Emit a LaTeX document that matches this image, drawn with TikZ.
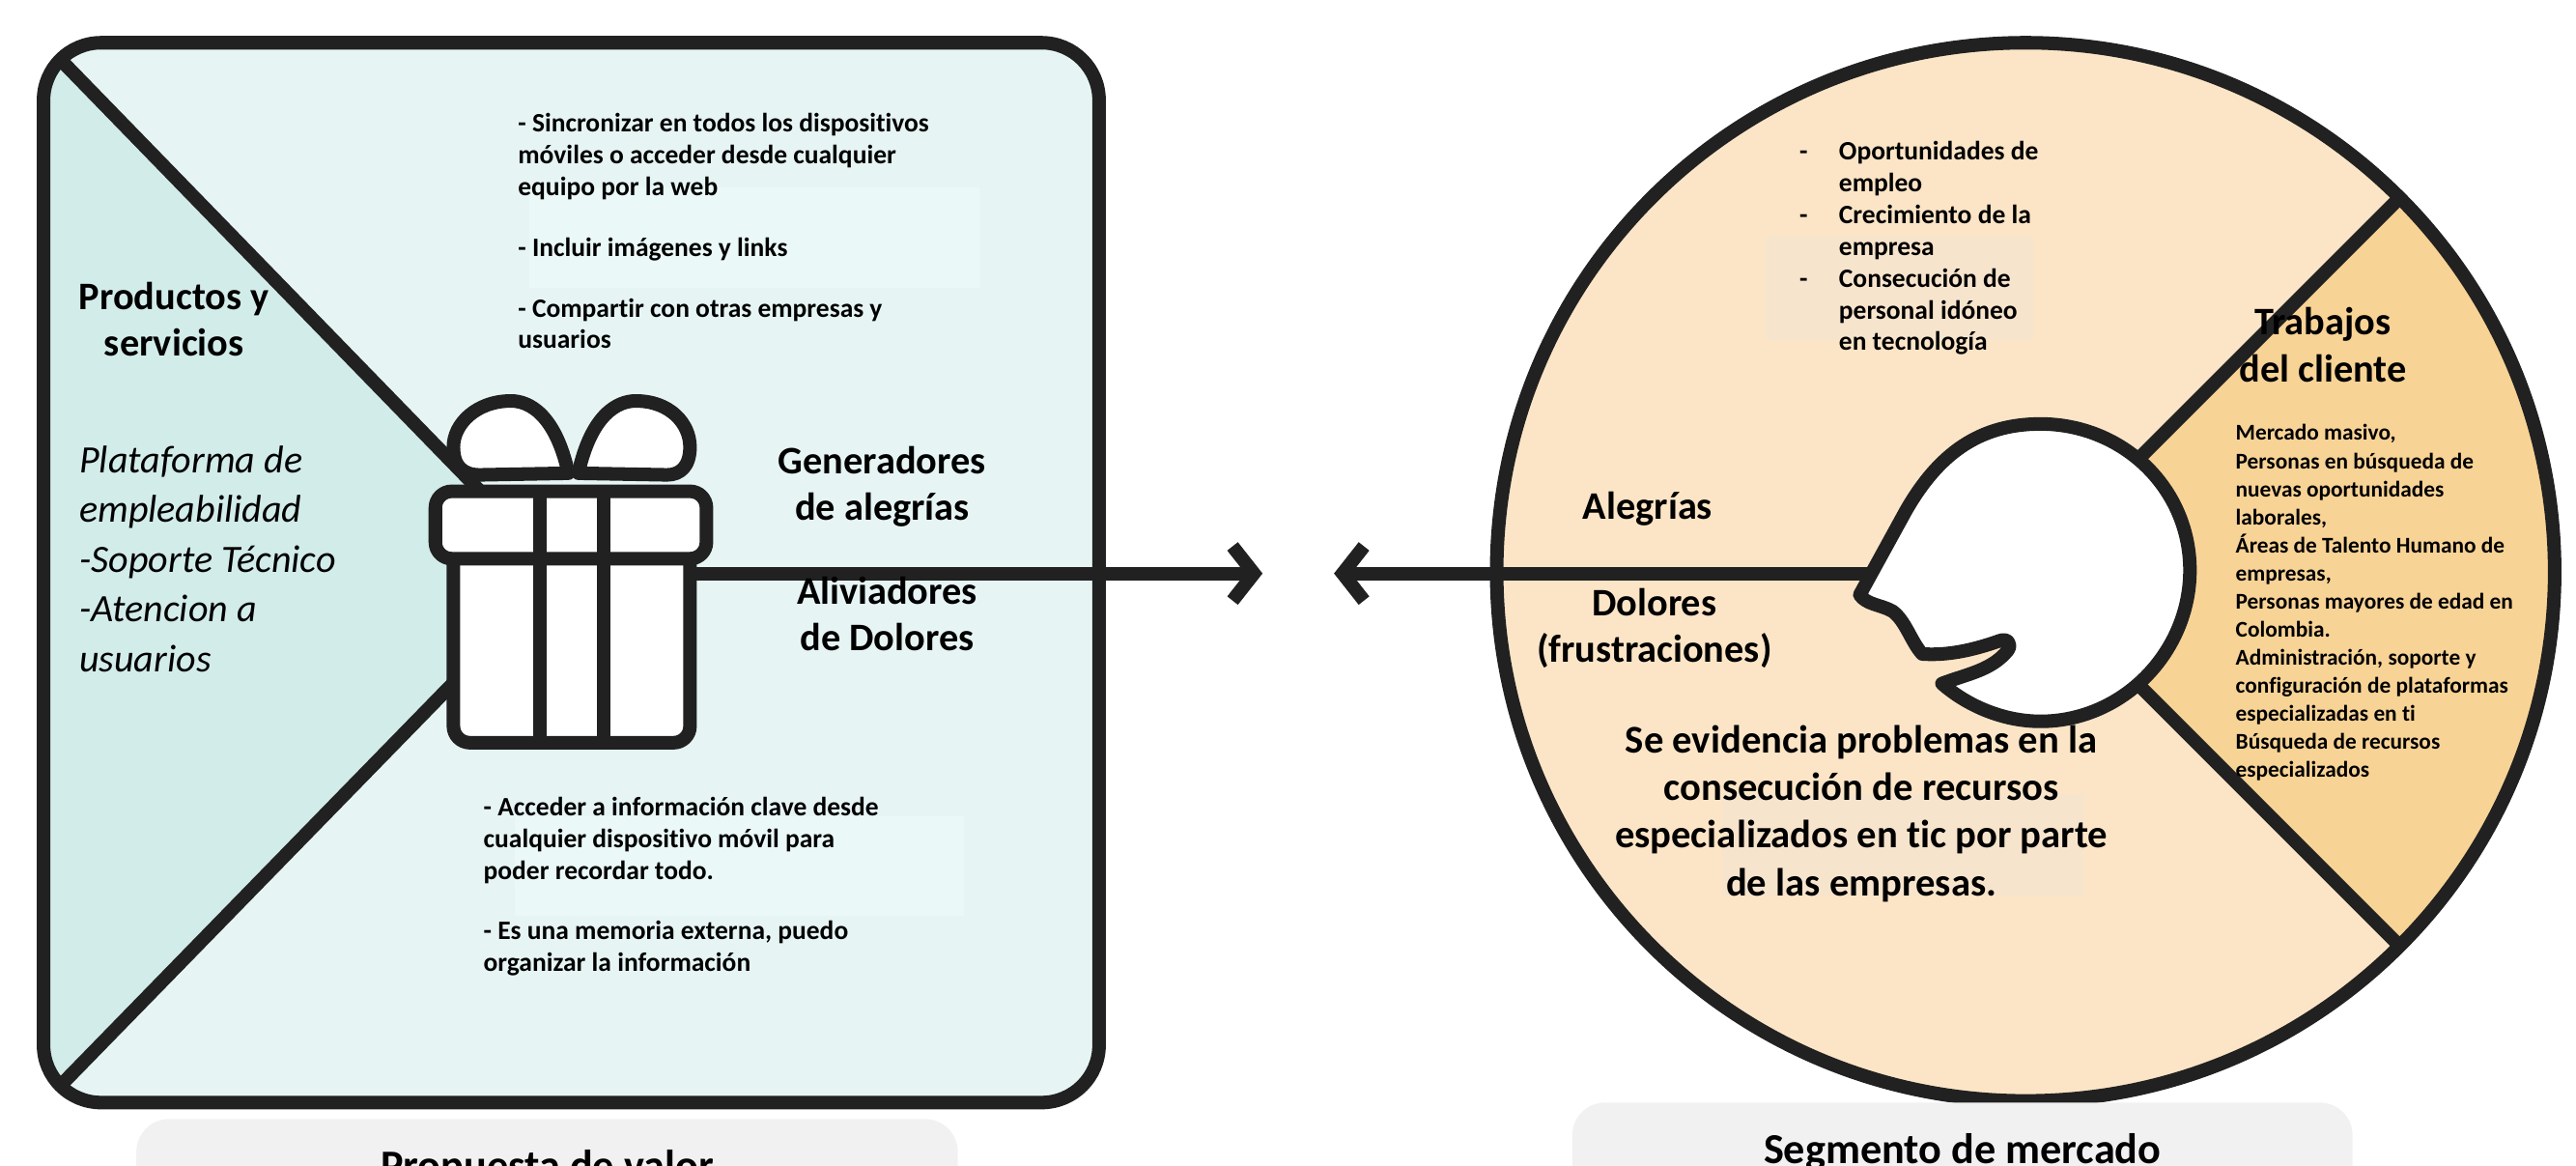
\documentclass[tikz,border=0pt]{standalone}
\usepackage{fontspec}
\setmainfont{Carlito}[Ligatures=CommonOff]
\usetikzlibrary{arrows.meta}
\definecolor{linea}{HTML}{212121}
\definecolor{fondoprop}{HTML}{E6F5F4}
\definecolor{producto}{HTML}{D2ECEA}
\definecolor{tenue}{HTML}{EAF8F7}
\definecolor{durazno}{HTML}{FCE5C6}
\definecolor{naranja}{HTML}{F8D396}
\definecolor{tenuedur}{HTML}{F7E4CC}
\definecolor{grisrot}{HTML}{F1F1F1}
\newcommand{\guion}{\llap{-\hspace{3.8mm}}}
\begin{document}
\begin{tikzpicture}[x=0.2mm,y=0.2mm,
    borde/.style={line width=1.65mm,draw=linea,line join=round},
    flecha/.style={line width=1.65mm,draw=linea,-{Straight Barb[length=2.6mm,width=6.6mm]}},
    titulo/.style={font=\fontsize{13.5}{16.2}\selectfont\bfseries,align=center,inner sep=0pt,anchor=north},
    grande/.style={titulo,font=\fontsize{13.6}{16.5}\selectfont\bfseries},
    cursiva/.style={font=\fontsize{13.4}{17.2}\selectfont\itshape,align=left,inner sep=0pt,anchor=north west},
    textito/.style={font=\fontsize{9.2}{11}\selectfont\bfseries,align=left,inner sep=0pt,anchor=north west},
    menudo/.style={textito,font=\fontsize{7.8}{9.73}\selectfont\bfseries},
    etiqueta/.style={fill=grisrot,rounded corners=4mm,minimum height=12mm,font=\fontsize{14.8}{18}\selectfont\bfseries}]
  % Propuesta de valor frente a segmento de mercado
  \useasboundingbox (0,0) rectangle (1568,-709.6);
  \clip (0,0) rectangle (1568,-709.6);
  \def\esq{7mm}
  \def\r{322}
  \coordinate (regalo) at (341,-349);
  \coordinate (puntaIzq) at (768.5,-349);
  \coordinate (puntaDer) at (812,-349);
  \coordinate (cabeza) at (1245,-349);
  \coordinate (centro) at (1233,-348);

  % lado izquierdo
  \fill[fondoprop,rounded corners=\esq] (26.5,-26) rectangle (669,-671);
  \begin{scope}
    \clip[rounded corners=\esq] (26.5,-26) rectangle (669,-671);
    \fill[producto] (20,-19.5) -- (regalo) -- (20,-678.5) -- cycle;
  \end{scope}
  \fill[tenue] (322,-114) rectangle (596,-175);
  \fill[tenue] (313.5,-497) rectangle (587,-557.6);
  \draw[borde,rounded corners=\esq] (26.5,-26) rectangle (669,-671);
  \draw[borde] (36.75,-36.25) -- (regalo) -- (36.75,-660.75);
  \draw[flecha] (regalo) -- (puntaIzq);

  % regalo
  \draw[borde,fill=white] (346,-288) .. controls (338,-252) and (322,-244) .. (311,-244) .. controls (290,-244) and (276,-258) .. (276,-272) .. controls (276,-284) and (282,-289) .. (292,-289) -- cycle;
  \draw[borde,fill=white] (352,-288) .. controls (360,-252) and (376,-244) .. (387,-244) .. controls (408,-244) and (420,-258) .. (420,-272) .. controls (420,-284) and (414,-289) .. (406,-289) -- cycle;
  \draw[borde,fill=white,rounded corners=2mm] (276,-330) rectangle (420,-452);
  \draw[borde,fill=white,rounded corners=2mm] (265,-299) rectangle (430,-340);
  \draw[borde] (328.5,-299) -- (328.5,-452) (367.5,-299) -- (367.5,-452);

  \node[titulo] (productos) at (106,-171.3) {Productos y\\servicios};
  \node[cursiva] (plataforma) at (48,-271) {Plataforma de\\empleabilidad\\-Soporte Técnico\\-Atencion a\\usuarios};
  \node[textito] (generadoresTxt) at (315,-68.7) {- Sincronizar en todos los dispositivos\\móviles o acceder desde cualquier\\equipo por la web\\[10pt]- Incluir imágenes y links\\[10pt]- Compartir con otras empresas y\\usuarios};
  \node[titulo] (generadores) at (537,-271.3) {Generadores\\de alegrías};
  \node[titulo] (aliviadores) at (540,-350.7) {Aliviadores\\de Dolores};
  \node[textito] (aliviadoresTxt) at (294,-484.7) {- Acceder a información clave desde\\cualquier dispositivo móvil para\\poder recordar todo.\\[10pt]- Es una memoria externa, puedo\\organizar la información};

  % lado derecho
  \fill[durazno] (centro) circle (\r);
  \fill[naranja] (centro) -- ++(45:\r) arc[start angle=45,end angle=-45,radius=\r] -- cycle;
  \fill[tenuedur] (1075,-144) rectangle (1238,-207);
  \fill[tenuedur] (1048,-483) rectangle (1268,-545);
  \draw[borde] (centro) circle (\r);
  \draw[borde] (centro) ++(45:\r) -- (centro) -- ++(-45:\r);
  \draw[flecha] (cabeza) -- (puntaDer);

  % perfil
  \draw[borde,fill=white] (1132,-362) -- (1160,-311) .. controls (1180,-276) and (1205,-258) .. (1242,-258) .. controls (1292,-258) and (1333,-297) .. (1333,-347) .. controls (1333,-397) and (1292,-439) .. (1242,-439) .. controls (1220,-439) and (1198,-430) .. (1182,-416) .. controls (1198,-410) and (1212,-408) .. (1222,-396) .. controls (1225,-392) and (1222,-388) .. (1217,-390) .. controls (1200,-396) and (1185,-399) .. (1170,-398) .. controls (1163,-390) and (1160,-378) .. (1152,-372) .. controls (1145,-368) and (1136,-368) .. (1132,-362) -- cycle;

  \node[textito] (alegriasTxt) at (1119,-85.7) {\guion Oportunidades de\\empleo\\\guion Crecimiento de la\\empresa\\\guion Consecución de\\personal idóneo\\en tecnología};
  \node[titulo] (trabajos) at (1414,-187) {Trabajos\\del cliente};
  \node[menudo] (trabajosTxt) at (1360.5,-258.1) {Mercado masivo,\\Personas en búsqueda de\\nuevas oportunidades\\laborales,\\Áreas de Talento Humano de\\empresas,\\Personas mayores de edad en\\Colombia.\\Administración, soporte y\\configuración de plataformas\\especializadas en ti\\Búsqueda de recursos\\especializados};
  \node[titulo] (alegrias) at (1003,-298.8) {Alegrías};
  \node[titulo] (dolores) at (1007,-357.6) {Dolores\\(frustraciones)};
  \node[grande] (doloresTxt) at (1133,-440.9) {Se evidencia problemas en la\\consecución de recursos\\especializados en tic por parte\\de las empresas.};

  % etiquetas
  \node[etiqueta,minimum width=100mm] (propuesta) at (333,-711) {Propuesta de valor};
  \node[etiqueta,minimum width=95mm] (segmento) at (1194.5,-701) {Segmento de mercado};
\end{tikzpicture}
\end{document}
